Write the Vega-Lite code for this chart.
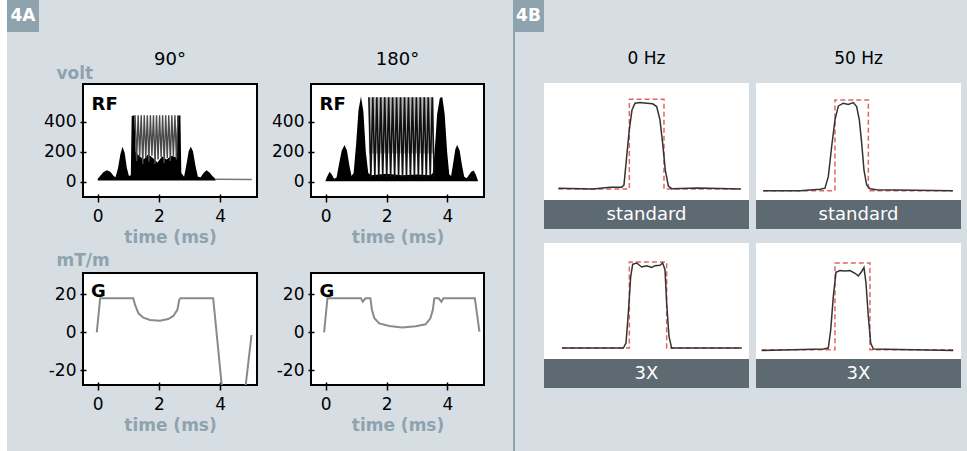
{
"$schema": "https://vega.github.io/schema/vega-lite/v6.json",
"background": "#d6dee4",
"padding": {"left": 0, "top": 0, "right": 6, "bottom": 0},
"config": {
  "font": "DejaVu Sans",
  "view": {"stroke": null},
  "axis": {"domain": false, "grid": false, "tickColor": "#000", "tickWidth": 1.5, "labelColor": "#000", "labelFontSize": 17, "titleColor": "#8fa3ae", "titleFontSize": 17, "titleFontWeight": "bold"},
  "axisX": {"offset": -3, "tickSize": 8, "labelPadding": 6, "titlePadding": 5},
  "axisY": {"offset": -3, "tickSize": 6, "labelPadding": 4}
},
"datasets": {
  "rf90": [
    {"t":0.0,"v":22,"lo":10},{"t":0.08,"v":40,"lo":10},{"t":0.18,"v":65,"lo":10},{"t":0.3,"v":78,"lo":10},{"t":0.42,"v":66,"lo":10},{"t":0.52,"v":40,"lo":10},{"t":0.58,"v":32,"lo":10},{"t":0.66,"v":90,"lo":10},{"t":0.74,"v":185,"lo":10},{"t":0.81,"v":235,"lo":10},{"t":0.88,"v":195,"lo":10},{"t":0.95,"v":95,"lo":10},{"t":1.02,"v":40,"lo":10},{"t":1.08,"v":45,"lo":10},{"t":1.11,"v":440,"lo":10},{"t":1.2,"v":445,"lo":10},{"t":1.24,"v":200,"lo":10},{"t":1.35,"v":175,"lo":10},{"t":1.5,"v":150,"lo":10},{"t":1.65,"v":185,"lo":10},{"t":1.8,"v":160,"lo":10},{"t":1.95,"v":130,"lo":10},{"t":2.1,"v":170,"lo":10},{"t":2.25,"v":150,"lo":10},{"t":2.4,"v":175,"lo":10},{"t":2.55,"v":165,"lo":10},{"t":2.6,"v":440,"lo":10},{"t":2.7,"v":445,"lo":10},{"t":2.73,"v":60,"lo":10},{"t":2.82,"v":35,"lo":10},{"t":2.9,"v":120,"lo":10},{"t":2.97,"v":205,"lo":10},{"t":3.04,"v":235,"lo":10},{"t":3.11,"v":205,"lo":10},{"t":3.19,"v":110,"lo":10},{"t":3.27,"v":35,"lo":10},{"t":3.36,"v":32,"lo":10},{"t":3.45,"v":58,"lo":10},{"t":3.55,"v":78,"lo":10},{"t":3.65,"v":64,"lo":10},{"t":3.75,"v":38,"lo":10},{"t":3.85,"v":20,"lo":10}
  ],
  "rf90z": [
    {"t":1.22,"v":445},{"t":1.27,"v":140},{"t":1.32,"v":445},{"t":1.37,"v":170},{"t":1.42,"v":445},{"t":1.47,"v":120},{"t":1.52,"v":445},{"t":1.57,"v":160},{"t":1.62,"v":445},{"t":1.67,"v":135},{"t":1.72,"v":445},{"t":1.77,"v":175},{"t":1.82,"v":445},{"t":1.87,"v":120},{"t":1.92,"v":445},{"t":1.97,"v":150},{"t":2.02,"v":445},{"t":2.07,"v":165},{"t":2.12,"v":445},{"t":2.17,"v":125},{"t":2.22,"v":445},{"t":2.27,"v":160},{"t":2.32,"v":445},{"t":2.37,"v":140},{"t":2.42,"v":445},{"t":2.47,"v":170},{"t":2.52,"v":445},{"t":2.57,"v":150},{"t":2.62,"v":445}
  ],
  "rf90b": [{"t":3.85,"v":18},{"t":5.03,"v":16}],
  "rf180": [
    {"t":0.0,"v":12,"lo":5},{"t":0.06,"v":40,"lo":5},{"t":0.13,"v":69,"lo":5},{"t":0.2,"v":50,"lo":5},{"t":0.28,"v":22,"lo":5},{"t":0.36,"v":30,"lo":5},{"t":0.45,"v":130,"lo":5},{"t":0.53,"v":210,"lo":5},{"t":0.62,"v":247,"lo":5},{"t":0.7,"v":210,"lo":5},{"t":0.78,"v":110,"lo":5},{"t":0.85,"v":40,"lo":5},{"t":0.92,"v":60,"lo":5},{"t":1.0,"v":250,"lo":5},{"t":1.08,"v":480,"lo":5},{"t":1.16,"v":569,"lo":5},{"t":1.24,"v":470,"lo":5},{"t":1.32,"v":200,"lo":5},{"t":1.4,"v":60,"lo":5},{"t":1.5,"v":45,"lo":5},{"t":2.0,"v":55,"lo":5},{"t":2.5,"v":45,"lo":5},{"t":3.0,"v":50,"lo":5},{"t":3.45,"v":45,"lo":5},{"t":3.52,"v":60,"lo":5},{"t":3.58,"v":200,"lo":5},{"t":3.66,"v":450,"lo":5},{"t":3.75,"v":560,"lo":5},{"t":3.83,"v":566,"lo":5},{"t":3.91,"v":450,"lo":5},{"t":3.99,"v":200,"lo":5},{"t":4.06,"v":50,"lo":5},{"t":4.12,"v":40,"lo":5},{"t":4.2,"v":140,"lo":5},{"t":4.26,"v":220,"lo":5},{"t":4.32,"v":247,"lo":5},{"t":4.4,"v":210,"lo":5},{"t":4.47,"v":120,"lo":5},{"t":4.55,"v":35,"lo":5},{"t":4.63,"v":25,"lo":5},{"t":4.7,"v":45,"lo":5},{"t":4.78,"v":68,"lo":5},{"t":4.86,"v":76,"lo":5},{"t":4.93,"v":50,"lo":5},{"t":5.0,"v":10,"lo":5}
  ],
  "rf180g": [{"t":1.42,"v":565,"lo":190},{"t":3.56,"v":565,"lo":190}],
  "rf180z": [
    {"t":1.42,"v":565},{"t":1.485,"v":30},{"t":1.55,"v":565},{"t":1.615,"v":35},{"t":1.68,"v":565},{"t":1.745,"v":30},{"t":1.81,"v":565},{"t":1.875,"v":40},{"t":1.94,"v":565},{"t":2.005,"v":30},{"t":2.07,"v":565},{"t":2.135,"v":35},{"t":2.2,"v":565},{"t":2.265,"v":30},{"t":2.33,"v":565},{"t":2.395,"v":40},{"t":2.46,"v":565},{"t":2.525,"v":30},{"t":2.59,"v":565},{"t":2.655,"v":35},{"t":2.72,"v":565},{"t":2.785,"v":30},{"t":2.85,"v":565},{"t":2.915,"v":40},{"t":2.98,"v":565},{"t":3.045,"v":30},{"t":3.11,"v":565},{"t":3.175,"v":35},{"t":3.24,"v":565},{"t":3.305,"v":30},{"t":3.37,"v":565},{"t":3.435,"v":40},{"t":3.5,"v":565},{"t":3.565,"v":30}
  ],
  "g90": [
    {"t":-0.03,"v":0},{"t":0.08,"v":17.9},{"t":1.16,"v":17.9},{"t":1.22,"v":14.4},{"t":1.33,"v":10},{"t":1.49,"v":7.7},{"t":1.71,"v":6.5},{"t":2.03,"v":6.1},{"t":2.3,"v":7},{"t":2.47,"v":8.6},{"t":2.6,"v":11.8},{"t":2.66,"v":17},{"t":2.7,"v":17.9},{"t":3.77,"v":17.9},{"t":4.05,"v":-28},{"t":4.12,"v":-34},{"t":4.75,"v":-34},{"t":4.83,"v":-28},{"t":5.02,"v":-1.4}
  ],
  "g180": [
    {"t":-0.05,"v":0},{"t":0.06,"v":17.9},{"t":1.16,"v":17.9},{"t":1.22,"v":16.1},{"t":1.31,"v":17.9},{"t":1.47,"v":17.9},{"t":1.52,"v":11.8},{"t":1.6,"v":7.4},{"t":1.76,"v":4.7},{"t":2.09,"v":3.3},{"t":2.52,"v":2.6},{"t":2.96,"v":3.2},{"t":3.28,"v":4.2},{"t":3.44,"v":7.4},{"t":3.52,"v":11.8},{"t":3.57,"v":17.9},{"t":3.71,"v":17.9},{"t":3.8,"v":16.1},{"t":3.87,"v":17.9},{"t":4.9,"v":17.9},{"t":5.05,"v":0.35}
  ],
  "m1": [
    {"x":-17.2,"y":0.008},{"x":-10.4,"y":0},{"x":-7.1,"y":0.02},{"x":-4.84,"y":0.02},{"x":-4.39,"y":0.045},{"x":-3.87,"y":0.36},{"x":-3.35,"y":0.66},{"x":-2.83,"y":0.88},{"x":-2.24,"y":0.955},{"x":-1.27,"y":0.962},{"x":0.03,"y":0.955},{"x":1.2,"y":0.948},{"x":1.98,"y":0.918},{"x":2.63,"y":0.77},{"x":3.15,"y":0.51},{"x":3.67,"y":0.21},{"x":4.26,"y":0.033},{"x":4.91,"y":0.003},{"x":10,"y":0.01},{"x":18.4,"y":0}
  ],
  "r1": [{"i":0,"x":-17.2,"y":0},{"i":1,"x":-3.35,"y":0},{"i":2,"x":-3.35,"y":1},{"i":3,"x":3.41,"y":1},{"i":4,"x":3.41,"y":0},{"i":5,"x":18.4,"y":0}],
  "m2": [
    {"x":-18.6,"y":-0.02},{"x":-11.4,"y":-0.02},{"x":-7.5,"y":-0.004},{"x":-6.54,"y":0.008},{"x":-5.89,"y":0.137},{"x":-5.24,"y":0.47},{"x":-4.59,"y":0.77},{"x":-3.93,"y":0.925},{"x":-2.96,"y":0.955},{"x":-1.99,"y":0.94},{"x":-1.01,"y":0.962},{"x":-0.36,"y":0.918},{"x":0.16,"y":0.77},{"x":0.62,"y":0.51},{"x":1.07,"y":0.21},{"x":1.59,"y":0.045},{"x":2.24,"y":0.003},{"x":3.55,"y":-0.01},{"x":18.4,"y":-0.02}
  ],
  "r2": [{"i":0,"x":-18.6,"y":-0.02},{"i":1,"x":-4.59,"y":-0.02},{"i":2,"x":-4.59,"y":0.992},{"i":3,"x":1.92,"y":0.992},{"i":4,"x":1.92,"y":-0.02},{"i":5,"x":18.4,"y":-0.02}],
  "m3": [
    {"x":-16.5,"y":0},{"x":-4.52,"y":0},{"x":-4.0,"y":0.056},{"x":-3.55,"y":0.39},{"x":-3.09,"y":0.8},{"x":-2.7,"y":0.94},{"x":-1.92,"y":0.955},{"x":-0.94,"y":0.91},{"x":0.03,"y":0.925},{"x":1.01,"y":0.906},{"x":1.66,"y":0.925},{"x":2.63,"y":0.93},{"x":3.15,"y":0.955},{"x":3.61,"y":0.88},{"x":3.93,"y":0.506},{"x":4.39,"y":0.13},{"x":4.91,"y":0},{"x":18.6,"y":0}
  ],
  "r3": [{"i":0,"x":-16.5,"y":0},{"i":1,"x":-3.35,"y":0},{"i":2,"x":-3.35,"y":0.966},{"i":3,"x":3.93,"y":0.966},{"i":4,"x":3.93,"y":0},{"i":5,"x":18.6,"y":0}],
  "m4": [
    {"x":-18.9,"y":-0.027},{"x":-6.86,"y":-0.011},{"x":-5.89,"y":0},{"x":-5.43,"y":0.2},{"x":-4.91,"y":0.58},{"x":-4.39,"y":0.85},{"x":-3.61,"y":0.87},{"x":-2.63,"y":0.865},{"x":-1.66,"y":0.87},{"x":-0.68,"y":0.84},{"x":-0.03,"y":0.81},{"x":0.62,"y":0.86},{"x":1.07,"y":0.905},{"x":1.46,"y":0.73},{"x":1.92,"y":0.355},{"x":2.38,"y":0.056},{"x":2.89,"y":-0.011},{"x":18.5,"y":-0.027}
  ],
  "r4": [{"i":0,"x":-18.9,"y":-0.02},{"i":1,"x":-4.59,"y":-0.02},{"i":2,"x":-4.59,"y":0.955},{"i":3,"x":2.24,"y":0.955},{"i":4,"x":2.24,"y":-0.02},{"i":5,"x":18.5,"y":-0.02}],
  "lblRF": [{"lab":"RF","t":-0.2,"v":480}],
  "lblG90": [{"lab":"G","t":-0.22,"v":18.7}],
  "lblG180": [{"lab":"G","t":-0.2,"v":18.7}],
  "blank": [{}]
},
"spacing": 28,
"hconcat": [
 {"columns": 6, "align": "each", "bounds": "flush", "spacing": 0, "concat": [
  {"width": 7, "height": 32, "view": {"fill": "#ffffff"}, "data": {"name": "blank"}, "mark": {"type": "rect", "color": "#ffffff"}},
  {"width": 32, "height": 32, "view": {"fill": "#8fa3ae"}, "data": {"values": [{"lab": "4A"}]}, "mark": {"type": "text", "color": "white", "fontSize": 17, "fontWeight": "bold"}, "encoding": {"text": {"field": "lab"}}},
  {"width": 44, "height": 32, "data": {"name": "blank"}, "mark": {"type": "text", "text": ""}},
  {"width": 174, "height": 32, "data": {"name": "blank"}, "mark": {"type": "text", "text": ""}},
  {"width": 54, "height": 32, "data": {"name": "blank"}, "mark": {"type": "text", "text": ""}},
  {"width": 173, "height": 32, "data": {"name": "blank"}, "mark": {"type": "text", "text": ""}},

  {"width": 7, "height": 52, "view": {"fill": "#ffffff"}, "data": {"name": "blank"}, "mark": {"type": "rect", "color": "#ffffff"}},
  {"width": 1, "height": 1, "data": {"name": "blank"}, "mark": {"type": "text", "text": ""}},
  {"width": 1, "height": 1, "data": {"name": "blank"}, "mark": {"type": "text", "text": ""}},
  {"width": 174, "height": 52, "data": {"values": [{"h": "90°"}]}, "mark": {"type": "text", "fontSize": 18, "dy": 2, "color": "black"}, "encoding": {"text": {"field": "h"}}},
  {"width": 1, "height": 1, "data": {"name": "blank"}, "mark": {"type": "text", "text": ""}},
  {"width": 173, "height": 52, "data": {"values": [{"h": "180°"}]}, "mark": {"type": "text", "fontSize": 18, "dy": 2, "color": "black"}, "encoding": {"text": {"field": "h"}}},

  {"width": 7, "height": 113, "view": {"fill": "#ffffff"}, "data": {"name": "blank"}, "mark": {"type": "rect", "color": "#ffffff"}},
  {"width": 1, "height": 1, "data": {"name": "blank"}, "mark": {"type": "text", "text": ""}},
  {"width": 1, "height": 1, "data": {"name": "blank"}, "mark": {"type": "text", "text": ""}},
  {"width": 174, "height": 113, "view": {"fill": "white", "stroke": "black", "strokeWidth": 2},
   "encoding": {
     "x": {"field": "t", "type": "quantitative", "scale": {"domain": [-0.48, 5.2], "nice": false, "zero": false}, "axis": {"values": [0, 2, 4], "title": "time (ms)"}},
     "y": {"field": "v", "type": "quantitative", "scale": {"domain": [-100, 653], "nice": false, "zero": false}, "axis": {"values": [0, 200, 400], "title": "volt", "titleAngle": 0, "titleAlign": "left", "titleBaseline": "alphabetic", "titleX": -30, "titleY": -6}}
   },
   "layer": [
     {"data": {"name": "rf90"}, "mark": {"type": "area", "color": "black", "clip": true}, "encoding": {"y2": {"field": "lo"}}},
     {"data": {"name": "rf90z"}, "mark": {"type": "line", "color": "#4a4a4a", "strokeWidth": 1.4, "clip": true}},
     {"data": {"name": "rf90b"}, "mark": {"type": "line", "color": "#777", "strokeWidth": 1.5, "clip": true}},
     {"data": {"name": "lblRF"}, "mark": {"type": "text", "align": "left", "baseline": "alphabetic", "fontSize": 18, "fontWeight": "bold", "color": "black"}, "encoding": {"text": {"field": "lab"}}}
   ]},
  {"width": 1, "height": 1, "data": {"name": "blank"}, "mark": {"type": "text", "text": ""}},
  {"width": 173, "height": 113, "view": {"fill": "white", "stroke": "black", "strokeWidth": 2},
   "encoding": {
     "x": {"field": "t", "type": "quantitative", "scale": {"domain": [-0.48, 5.2], "nice": false, "zero": false}, "axis": {"values": [0, 2, 4], "title": "time (ms)"}},
     "y": {"field": "v", "type": "quantitative", "scale": {"domain": [-100, 653], "nice": false, "zero": false}, "axis": {"values": [0, 200, 400], "title": null}}
   },
   "layer": [
     {"data": {"name": "rf180g"}, "mark": {"type": "area", "color": "#b5b5b5", "clip": true}, "encoding": {"y2": {"field": "lo"}}},
     {"data": {"name": "rf180"}, "mark": {"type": "area", "color": "black", "clip": true}, "encoding": {"y2": {"field": "lo"}}},
     {"data": {"name": "rf180z"}, "mark": {"type": "line", "color": "#111", "strokeWidth": 1.6, "clip": true}},
     {"data": {"name": "lblRF"}, "mark": {"type": "text", "align": "left", "baseline": "alphabetic", "fontSize": 18, "fontWeight": "bold", "color": "black"}, "encoding": {"text": {"field": "lab"}}}
   ]},

  {"width": 7, "height": 76, "view": {"fill": "#ffffff"}, "data": {"name": "blank"}, "mark": {"type": "rect", "color": "#ffffff"}},
  {"width": 1, "height": 1, "data": {"name": "blank"}, "mark": {"type": "text", "text": ""}},
  {"width": 1, "height": 1, "data": {"name": "blank"}, "mark": {"type": "text", "text": ""}},
  {"width": 1, "height": 1, "data": {"name": "blank"}, "mark": {"type": "text", "text": ""}},
  {"width": 1, "height": 1, "data": {"name": "blank"}, "mark": {"type": "text", "text": ""}},
  {"width": 1, "height": 1, "data": {"name": "blank"}, "mark": {"type": "text", "text": ""}},

  {"width": 7, "height": 112, "view": {"fill": "#ffffff"}, "data": {"name": "blank"}, "mark": {"type": "rect", "color": "#ffffff"}},
  {"width": 1, "height": 1, "data": {"name": "blank"}, "mark": {"type": "text", "text": ""}},
  {"width": 1, "height": 1, "data": {"name": "blank"}, "mark": {"type": "text", "text": ""}},
  {"width": 174, "height": 112, "view": {"fill": "white", "stroke": "black", "strokeWidth": 2},
   "encoding": {
     "x": {"field": "t", "type": "quantitative", "scale": {"domain": [-0.48, 5.2], "nice": false, "zero": false}, "axis": {"values": [0, 2, 4], "title": "time (ms)"}},
     "y": {"field": "v", "type": "quantitative", "scale": {"domain": [-27.7, 31.2], "nice": false, "zero": false}, "axis": {"values": [-20, 0, 20], "labelExpr": "'' + datum.value", "title": "mT/m", "titleAngle": 0, "titleAlign": "left", "titleBaseline": "alphabetic", "titleX": -30, "titleY": -8}}
   },
   "layer": [
     {"data": {"name": "g90"}, "mark": {"type": "line", "color": "#8a8a8a", "strokeWidth": 2, "clip": true}},
     {"data": {"name": "lblG90"}, "mark": {"type": "text", "align": "left", "baseline": "alphabetic", "fontSize": 18, "fontWeight": "bold", "color": "black"}, "encoding": {"text": {"field": "lab"}}}
   ]},
  {"width": 1, "height": 1, "data": {"name": "blank"}, "mark": {"type": "text", "text": ""}},
  {"width": 173, "height": 112, "view": {"fill": "white", "stroke": "black", "strokeWidth": 2},
   "encoding": {
     "x": {"field": "t", "type": "quantitative", "scale": {"domain": [-0.48, 5.2], "nice": false, "zero": false}, "axis": {"values": [0, 2, 4], "title": "time (ms)"}},
     "y": {"field": "v", "type": "quantitative", "scale": {"domain": [-27.7, 31.2], "nice": false, "zero": false}, "axis": {"values": [-20, 0, 20], "labelExpr": "'' + datum.value", "title": null}}
   },
   "layer": [
     {"data": {"name": "g180"}, "mark": {"type": "line", "color": "#8a8a8a", "strokeWidth": 2, "clip": true}},
     {"data": {"name": "lblG180"}, "mark": {"type": "text", "align": "left", "baseline": "alphabetic", "fontSize": 18, "fontWeight": "bold", "color": "black"}, "encoding": {"text": {"field": "lab"}}}
   ]},

  {"width": 7, "height": 66, "view": {"fill": "#ffffff"}, "data": {"name": "blank"}, "mark": {"type": "rect", "color": "#ffffff"}},
  {"width": 1, "height": 1, "data": {"name": "blank"}, "mark": {"type": "text", "text": ""}},
  {"width": 1, "height": 1, "data": {"name": "blank"}, "mark": {"type": "text", "text": ""}},
  {"width": 1, "height": 1, "data": {"name": "blank"}, "mark": {"type": "text", "text": ""}},
  {"width": 1, "height": 1, "data": {"name": "blank"}, "mark": {"type": "text", "text": ""}},
  {"width": 1, "height": 1, "data": {"name": "blank"}, "mark": {"type": "text", "text": ""}}
 ]},
 {"columns": 4, "align": "each", "bounds": "flush", "spacing": 0, "concat": [
  {"width": 31, "height": 32, "view": {"fill": "#8fa3ae"}, "data": {"values": [{"lab": "4B"}]}, "mark": {"type": "text", "color": "white", "fontSize": 17, "fontWeight": "bold"}, "encoding": {"text": {"field": "lab"}}},
  {"width": 205, "height": 32, "data": {"name": "blank"}, "mark": {"type": "text", "text": ""}},
  {"width": 7, "height": 32, "data": {"name": "blank"}, "mark": {"type": "text", "text": ""}},
  {"width": 205, "height": 32, "data": {"name": "blank"}, "mark": {"type": "text", "text": ""}},

  {"width": 2, "height": 51, "view": {"fill": "#8fa3ae"}, "data": {"name": "blank"}, "mark": {"type": "text", "text": ""}},
  {"width": 205, "height": 51, "data": {"values": [{"h": "0 Hz"}]}, "mark": {"type": "text", "fontSize": 17, "dy": 1, "color": "black"}, "encoding": {"text": {"field": "h"}}},
  {"width": 1, "height": 1, "data": {"name": "blank"}, "mark": {"type": "text", "text": ""}},
  {"width": 205, "height": 51, "data": {"values": [{"h": "50 Hz"}]}, "mark": {"type": "text", "fontSize": 17, "dy": 1, "color": "black"}, "encoding": {"text": {"field": "h"}}},

  {"width": 2, "height": 117, "view": {"fill": "#8fa3ae"}, "data": {"name": "blank"}, "mark": {"type": "text", "text": ""}},
  {"width": 205, "height": 117, "view": {"fill": "white"},
   "encoding": {"x": {"field": "x", "type": "quantitative", "scale": {"domain": [-20, 20], "nice": false, "zero": false}, "axis": null}, "y": {"field": "y", "type": "quantitative", "scale": {"domain": [-0.123, 1.18], "nice": false, "zero": false}, "axis": null}},
   "layer": [
     {"data": {"name": "r1"}, "mark": {"type": "line", "color": "#e06666", "strokeWidth": 1.5, "strokeDash": [5, 3]}, "encoding": {"order": {"field": "i"}}},
     {"data": {"name": "m1"}, "mark": {"type": "line", "color": "#333", "strokeWidth": 1.5}}
   ]},
  {"width": 1, "height": 1, "data": {"name": "blank"}, "mark": {"type": "text", "text": ""}},
  {"width": 205, "height": 117, "view": {"fill": "white"},
   "encoding": {"x": {"field": "x", "type": "quantitative", "scale": {"domain": [-20, 20], "nice": false, "zero": false}, "axis": null}, "y": {"field": "y", "type": "quantitative", "scale": {"domain": [-0.123, 1.18], "nice": false, "zero": false}, "axis": null}},
   "layer": [
     {"data": {"name": "r2"}, "mark": {"type": "line", "color": "#e06666", "strokeWidth": 1.5, "strokeDash": [5, 3]}, "encoding": {"order": {"field": "i"}}},
     {"data": {"name": "m2"}, "mark": {"type": "line", "color": "#333", "strokeWidth": 1.5}}
   ]},

  {"width": 2, "height": 29, "view": {"fill": "#8fa3ae"}, "data": {"name": "blank"}, "mark": {"type": "text", "text": ""}},
  {"width": 205, "height": 29, "view": {"fill": "#5d6a72"}, "data": {"values": [{"lab": "standard"}]}, "mark": {"type": "text", "color": "white", "fontSize": 18}, "encoding": {"text": {"field": "lab"}}},
  {"width": 1, "height": 1, "data": {"name": "blank"}, "mark": {"type": "text", "text": ""}},
  {"width": 205, "height": 29, "view": {"fill": "#5d6a72"}, "data": {"values": [{"lab": "standard"}]}, "mark": {"type": "text", "color": "white", "fontSize": 18}, "encoding": {"text": {"field": "lab"}}},

  {"width": 2, "height": 14, "view": {"fill": "#8fa3ae"}, "data": {"name": "blank"}, "mark": {"type": "text", "text": ""}},
  {"width": 1, "height": 1, "data": {"name": "blank"}, "mark": {"type": "text", "text": ""}},
  {"width": 1, "height": 1, "data": {"name": "blank"}, "mark": {"type": "text", "text": ""}},
  {"width": 1, "height": 1, "data": {"name": "blank"}, "mark": {"type": "text", "text": ""}},

  {"width": 2, "height": 116, "view": {"fill": "#8fa3ae"}, "data": {"name": "blank"}, "mark": {"type": "text", "text": ""}},
  {"width": 205, "height": 116, "view": {"fill": "white"},
   "encoding": {"x": {"field": "x", "type": "quantitative", "scale": {"domain": [-20, 20], "nice": false, "zero": false}, "axis": null}, "y": {"field": "y", "type": "quantitative", "scale": {"domain": [-0.123, 1.18], "nice": false, "zero": false}, "axis": null}},
   "layer": [
     {"data": {"name": "r3"}, "mark": {"type": "line", "color": "#e06666", "strokeWidth": 1.5, "strokeDash": [5, 3]}, "encoding": {"order": {"field": "i"}}},
     {"data": {"name": "m3"}, "mark": {"type": "line", "color": "#333", "strokeWidth": 1.5}}
   ]},
  {"width": 1, "height": 1, "data": {"name": "blank"}, "mark": {"type": "text", "text": ""}},
  {"width": 205, "height": 116, "view": {"fill": "white"},
   "encoding": {"x": {"field": "x", "type": "quantitative", "scale": {"domain": [-20, 20], "nice": false, "zero": false}, "axis": null}, "y": {"field": "y", "type": "quantitative", "scale": {"domain": [-0.123, 1.18], "nice": false, "zero": false}, "axis": null}},
   "layer": [
     {"data": {"name": "r4"}, "mark": {"type": "line", "color": "#e06666", "strokeWidth": 1.5, "strokeDash": [5, 3]}, "encoding": {"order": {"field": "i"}}},
     {"data": {"name": "m4"}, "mark": {"type": "line", "color": "#333", "strokeWidth": 1.5}}
   ]},

  {"width": 2, "height": 29, "view": {"fill": "#8fa3ae"}, "data": {"name": "blank"}, "mark": {"type": "text", "text": ""}},
  {"width": 205, "height": 29, "view": {"fill": "#5d6a72"}, "data": {"values": [{"lab": "3X"}]}, "mark": {"type": "text", "color": "white", "fontSize": 18}, "encoding": {"text": {"field": "lab"}}},
  {"width": 1, "height": 1, "data": {"name": "blank"}, "mark": {"type": "text", "text": ""}},
  {"width": 205, "height": 29, "view": {"fill": "#5d6a72"}, "data": {"values": [{"lab": "3X"}]}, "mark": {"type": "text", "color": "white", "fontSize": 18}, "encoding": {"text": {"field": "lab"}}},

  {"width": 2, "height": 63, "view": {"fill": "#8fa3ae"}, "data": {"name": "blank"}, "mark": {"type": "text", "text": ""}},
  {"width": 1, "height": 1, "data": {"name": "blank"}, "mark": {"type": "text", "text": ""}},
  {"width": 1, "height": 1, "data": {"name": "blank"}, "mark": {"type": "text", "text": ""}},
  {"width": 1, "height": 1, "data": {"name": "blank"}, "mark": {"type": "text", "text": ""}}
 ]}
]
}
